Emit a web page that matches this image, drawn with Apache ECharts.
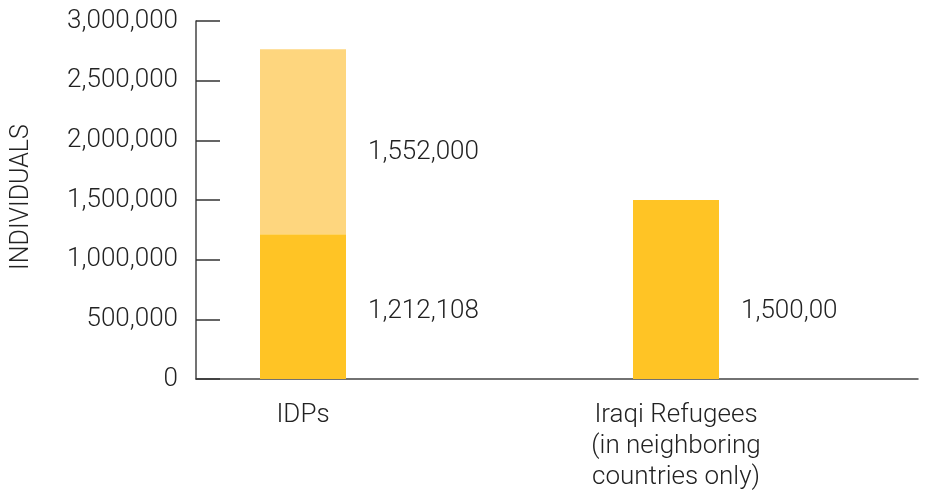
<!DOCTYPE html>
<html>
<head>
<meta charset="utf-8">
<script src="https://cdn.jsdelivr.net/npm/echarts@6/dist/echarts.min.js"></script>
<style>
html,body{margin:0;padding:0;background:#fff;}
#c{width:928px;height:493px;}
</style>
</head>
<body>
<div id="c"></div>
<script>
const categories = ['IDPs', 'Iraqi Refugees\n(in neighboring\ncountries only)'];
const baseValues = [1212108, 1500000];
const addedValues = [1552000, null];
const baseLabels = ['1,212,108', '1,500,00'];
const addedLabels = ['1,552,000', ''];
const yTicks = [0, 500000, 1000000, 1500000, 2000000, 2500000, 3000000];

const FONT = 'Roboto';
const TXT = '#222';
const fmt = v => String(v).replace(/\B(?=(\d{3})+(?!\d))/g, ',');
const yMin = yTicks[0], yMax = yTicks[yTicks.length - 1];

const chart = echarts.init(document.getElementById('c'));
chart.setOption({
  animation: false,
  grid: [
    { left: 116.5, right: 65.5, top: 21, bottom: 114, outerBoundsMode: 'none', containLabel: false },
    { left: 196, right: 10, top: 21, bottom: 114, outerBoundsMode: 'none', containLabel: false }
  ],
  xAxis: [
    {
      gridIndex: 0, type: 'category', data: categories,
      axisLine: { show: false }, axisTick: { show: false },
      axisLabel: {
        color: TXT, fontFamily: FONT, fontWeight: 300, fontSize: 26,
        lineHeight: 31, margin: 21, verticalAlign: 'top'
      }
    },
    {
      gridIndex: 1, type: 'category', data: [''],
      axisLine: { show: true, onZero: false, lineStyle: { color: '#444', width: 1.5 } },
      axisTick: { show: false }, axisLabel: { show: false }
    }
  ],
  yAxis: [
    {
      gridIndex: 0, type: 'value', min: yMin, max: yMax,
      interval: yTicks[1] - yTicks[0],
      offset: -79.5,
      name: 'INDIVIDUALS',
      nameLocation: 'middle',
      nameGap: 162,
      nameRotate: 90,
      nameTextStyle: { color: TXT, fontFamily: FONT, fontWeight: 300, fontSize: 25, padding: [0, 0, 0, 6] },
      splitLine: { show: false },
      axisLine: { show: true, lineStyle: { color: '#444', width: 1.5 } },
      axisTick: { show: true, inside: true, length: 24, lineStyle: { color: '#333', width: 1.5 } },
      axisLabel: {
        formatter: v => fmt(v),
        color: TXT, fontFamily: FONT, fontWeight: 300, fontSize: 26, margin: 18
      }
    },
    { gridIndex: 1, type: 'value', min: yMin, max: yMax, show: false }
  ],
  series: [
    {
      type: 'bar', stack: 'total', barWidth: 86, xAxisIndex: 0, yAxisIndex: 0,
      data: baseValues,
      itemStyle: { color: '#FFC425' },
      label: {
        show: true, position: ['100%', '100%'], offset: [22, -68],
        verticalAlign: 'middle', align: 'left',
        formatter: p => baseLabels[p.dataIndex],
        color: TXT, fontFamily: FONT, fontWeight: 300, fontSize: 26
      }
    },
    {
      type: 'bar', stack: 'total', barWidth: 86, xAxisIndex: 0, yAxisIndex: 0,
      data: addedValues,
      itemStyle: { color: '#FED67E' },
      label: {
        show: true, position: 'right', distance: 22, offset: [0, 11],
        formatter: p => addedLabels[p.dataIndex],
        color: TXT, fontFamily: FONT, fontWeight: 300, fontSize: 26
      }
    }
  ]
});
</script>
</body>
</html>
